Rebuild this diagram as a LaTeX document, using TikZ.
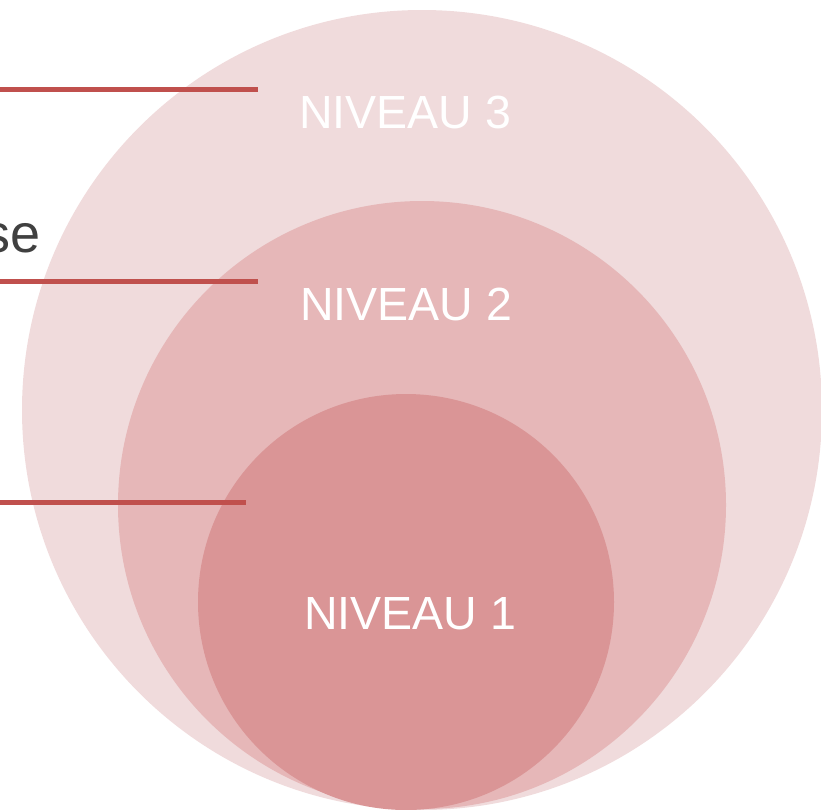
\documentclass[tikz,border=0pt]{standalone}
\usepackage{fontspec}
\setmainfont{Liberation Sans}
\definecolor{c3}{HTML}{F0DBDC}
\definecolor{c2}{HTML}{E6B7B8}
\definecolor{c1}{HTML}{DA9596}
\definecolor{lred}{HTML}{C0504D}
\definecolor{tgray}{HTML}{404040}
\tikzset{
  level/.style={circle, inner sep=0pt, draw=none},
  lvltext/.style={text=white, font=\fontsize{46.5}{54}\selectfont, inner sep=0pt},
  leader/.style={draw=lred, line width=5pt},
}
\begin{document}
\begin{tikzpicture}[x=1pt,y=-1pt]
\useasboundingbox (0,0) rectangle (821,809);
\clip (0,0) rectangle (821,809);
\node[level, fill=c3, minimum size=800pt] (o3) at (422,410) {};
\node[level, fill=c2, minimum size=608pt] (o2) at (422,505) {};
\node[level, fill=c1, minimum size=416pt] (o1) at (406,602) {};
\node[lvltext] (t3) at (405,112) {NIVEAU 3};
\node[lvltext] (t2) at (406,304) {NIVEAU 2};
\node[lvltext] (t1) at (410,614) {NIVEAU 1};
\coordinate (a3) at (0,89);
\coordinate (b3) at (258,89);
\coordinate (a2) at (0,281);
\coordinate (b2) at (258,281);
\coordinate (a1) at (0,502);
\coordinate (b1) at (246,502);
\draw[leader] (a3) -- (b3);
\draw[leader] (a2) -- (b2);
\draw[leader] (a1) -- (b1);
\node[text=tgray, font=\fontsize{54}{60}\selectfont, anchor=base east, inner sep=0pt] (se) at (41,252) {se};
\end{tikzpicture}
\end{document}
